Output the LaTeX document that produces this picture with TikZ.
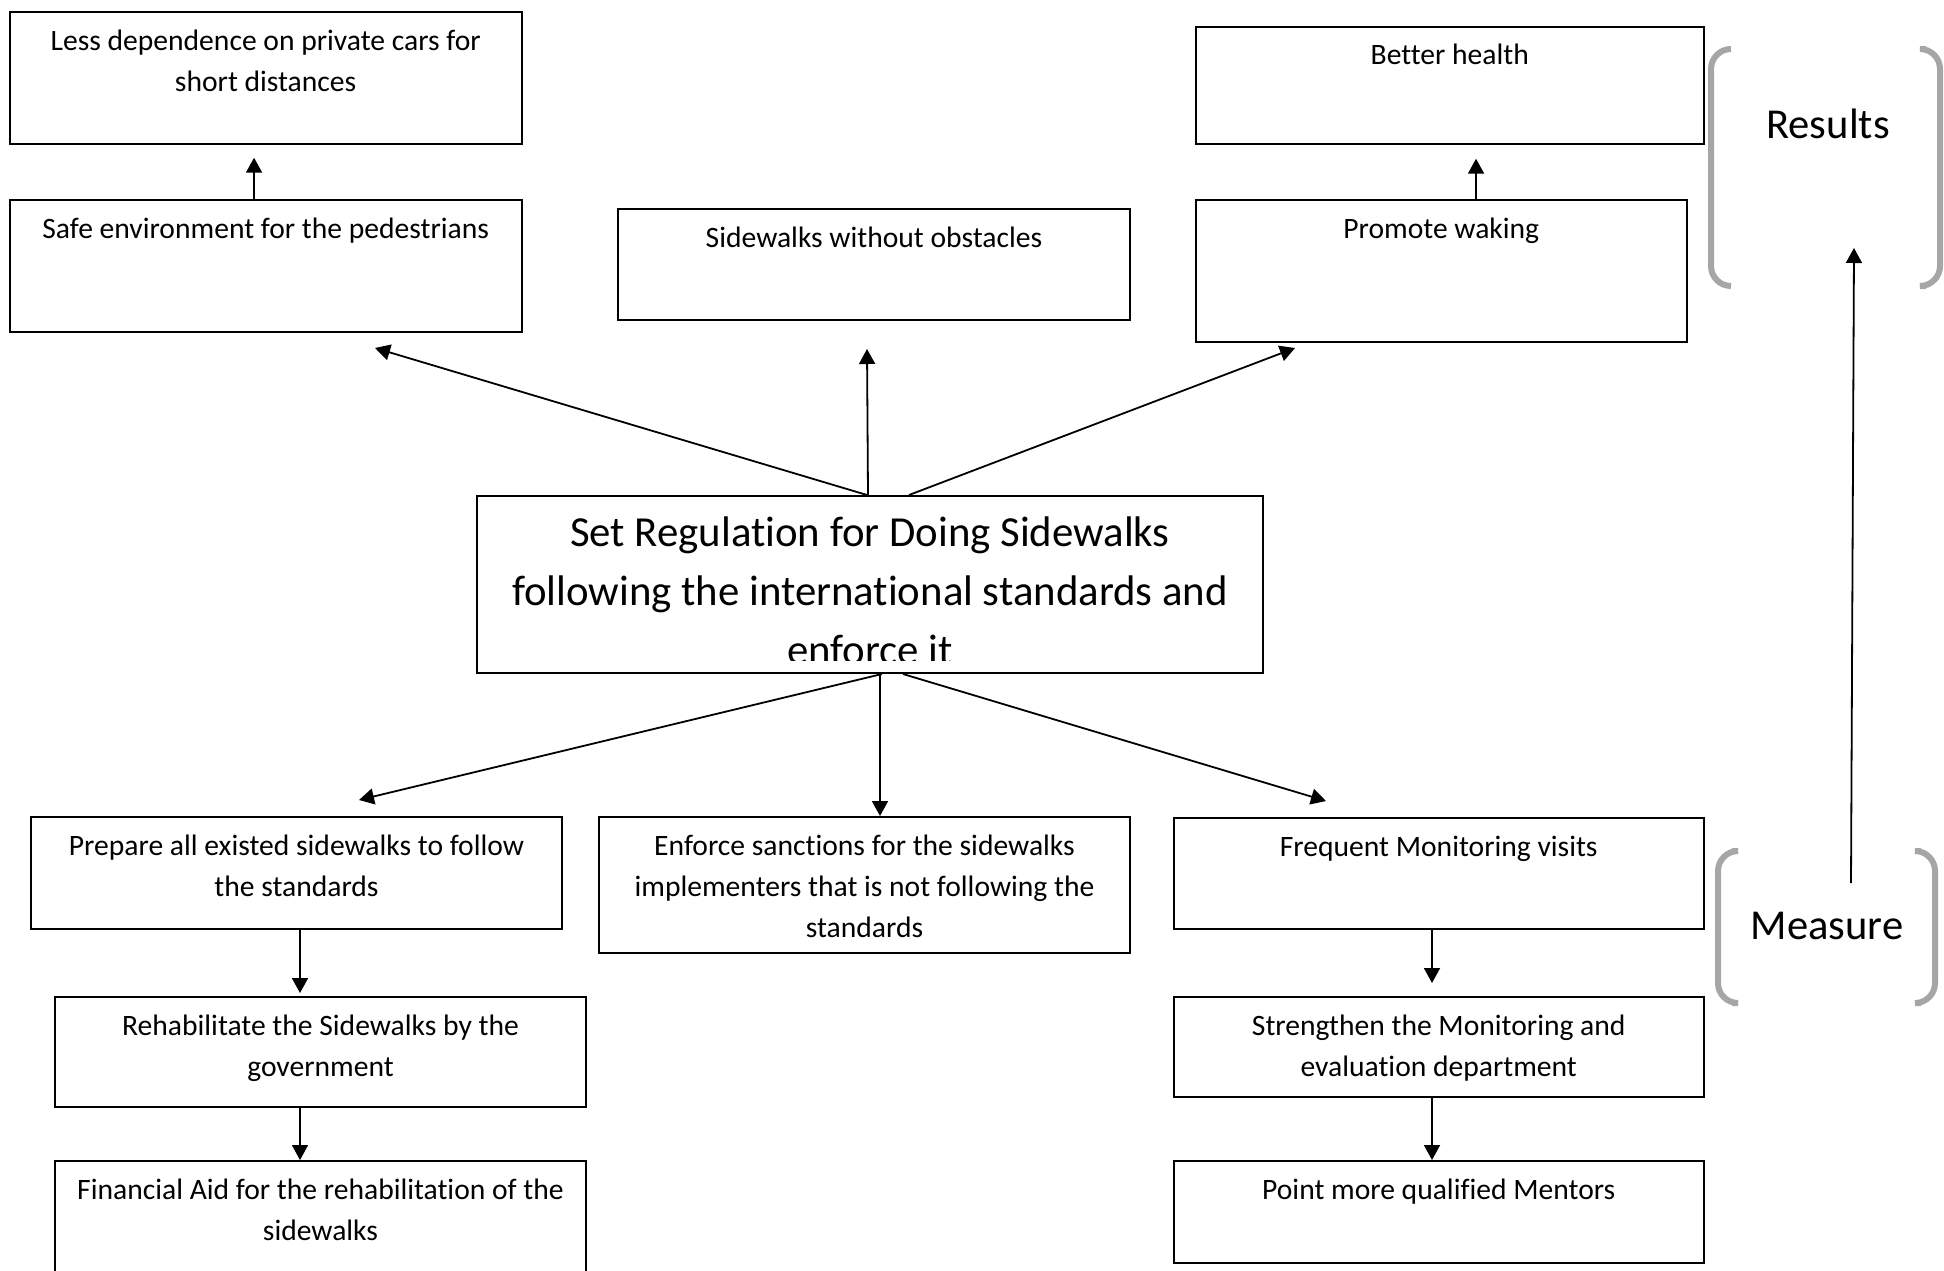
\documentclass[tikz,border=0pt]{standalone}
\usepackage{fontspec}
\setmainfont{Carlito}[Ligatures=NoCommon]
\usetikzlibrary{arrows.meta,calc}
\definecolor{brk}{HTML}{A6A6A6}
\tikzset{
  box/.style={draw, line width=1pt, anchor=north west, inner sep=0pt,
              font=\fontsize{14.8}{20.6}\selectfont},
  arr/.style={line width=0.9pt, -{Triangle[length=7.5pt,width=8pt]}},
  brace/.style={draw=brk, line width=3pt, rounded corners=10pt},
  tag/.style={anchor=base, inner sep=0pt, font=\fontsize{21.3}{25}\selectfont},
}
% box with its text set at the top: name, x1, y1, x2, y2, text
\newcommand\flowbox[6]{%
  \pgfmathsetlengthmacro\fbw{(#4-#2)*0.5}%
  \pgfmathsetlengthmacro\fbh{(#5-#3)*0.5}%
  \node[box] (#1) at (#2,#3)
    {\parbox[t][\fbh][t]{\fbw}{\centering\rule{0pt}{19pt}#6}};}
\begin{document}
\begin{tikzpicture}[x=0.5pt, y=-0.5pt]
\useasboundingbox (0,0) rectangle (1944,1270);

% results
\flowbox{less}{8.6}{11}{520.7}{142.7}{Less dependence on private cars for\\short distances}
\flowbox{safe}{8.6}{199}{520.7}{331}{Safe environment for the pedestrians}
\flowbox{clear}{617}{208}{1129}{319}{Sidewalks without obstacles}
\flowbox{health}{1194.5}{25.5}{1703}{142.7}{Better health}
\flowbox{walk}{1194.5}{199}{1686}{341}{Promote waking}

% central regulation box, its last line cut off by the frame
\node[box, minimum width=393pt, minimum height=88.5pt] (reg) at (476,495) {};
\begin{scope}
  \clip (476,495) rectangle (1262,660);
  \node[anchor=north, inner sep=0pt, font=\fontsize{21.4}{29.5}\selectfont] (regtext) at (reg.north)
    {\parbox[t]{393pt}{\centering\rule{0pt}{25.5pt}Set Regulation for Doing Sidewalks\\following the international standards and\\enforce it}};
\end{scope}

% measures
\flowbox{prep}{30}{816}{561}{928}{Prepare all existed sidewalks to follow\\the standards}
\flowbox{sanc}{598}{816}{1129}{952}{Enforce sanctions for the sidewalks\\implementers that is not following the\\standards}
\flowbox{freq}{1172.5}{817}{1703}{928}{Frequent Monitoring visits}
\flowbox{rehab}{54}{996}{585}{1106}{Rehabilitate the Sidewalks by the\\government}
\flowbox{stren}{1172.5}{996}{1703}{1096}{Strengthen the Monitoring and\\evaluation department}
\flowbox{fund}{54}{1160}{585}{1285}{Financial Aid for the rehabilitation of the\\sidewalks}
\flowbox{ment}{1172.5}{1160}{1703}{1262}{Point more qualified Mentors}

% free arrow ends
\coordinate (toSafe) at (375,348);
\coordinate (toClear) at (867,349);
\coordinate (toWalk) at (1295,348);
\coordinate (toPrep) at (359,800);
\coordinate (toFreq) at (1326,801);

% connectors from the regulation box
\draw[arr] ($(reg.north)+(-3,0)$) -- (toSafe);
\draw[arr] ($(reg.north)+(-2,0)$) -- (toClear);
\draw[arr] ($(reg.north)+(39,0)$) -- (toWalk);
\draw[arr] ($(reg.south)+(12,0)$) -- (toPrep);
\draw[arr] ($(reg.south)+(10,0)$) -- ($(sanc.north)+(15.5,0)$);
\draw[arr] ($(reg.south)+(33,0)$) -- (toFreq);

% vertical chains
\draw[arr, shorten >=6.5pt] ($(safe.north)+(-11.6,0)$) -- ($(less.south)+(-11.6,0)$);
\draw[arr, shorten >=7pt] ($(walk.north)+(34.8,0)$) -- ($(health.south)+(26.3,0)$);
\draw[arr, shorten >=1.5pt] ($(prep.south)+(3.5,0)$) -- ($(rehab.north)+(-20.5,0)$);
\draw[arr] ($(rehab.south)+(-20.5,0)$) -- ($(fund.north)+(-20.5,0)$);
\draw[arr, shorten >=6.5pt] ($(freq.south)+(-6.75,0)$) -- ($(stren.north)+(-6.75,0)$);
\draw[arr] ($(stren.south)+(-6.75,0)$) -- ($(ment.north)+(-6.75,0)$);

% side brackets and labels
\draw[brace] (1731,49) -- (1711,49) -- (1711,286) -- (1731,286);
\draw[brace] (1926,49) -- (1940,49) -- (1940,286) -- (1926,286);
\draw[brace] (1732,851) -- (1718,851) -- (1718,1003) -- (1732,1003);
\draw[brace] (1921,851) -- (1935,851) -- (1935,1003) -- (1921,1003);
\node[tag] (results) at (1828,138) {Results};
\node[tag] (measure) at (1827,939) {Measure};
\coordinate (measTop) at (1851,883);
\coordinate (resBot) at (1854,248);
\draw[arr] (measTop) -- (resBot);
\end{tikzpicture}
\end{document}
